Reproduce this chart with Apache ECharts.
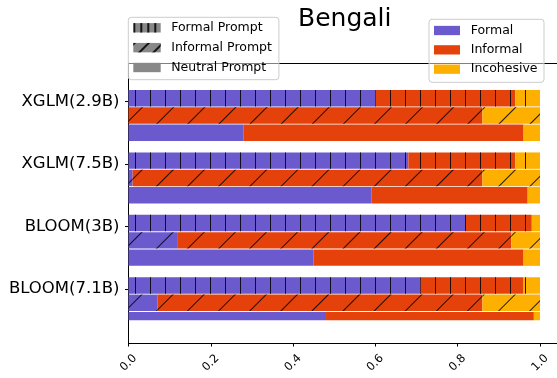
<!DOCTYPE html>
<html><head><meta charset="utf-8">
<script src="https://cdn.jsdelivr.net/npm/echarts@6/dist/echarts.min.js"></script>
<style>html,body{margin:0;padding:0;background:#fff}#c{width:557px;height:378px}</style>
</head><body><div id="c"></div>
<script>
// ---- data ----
const models = ['XGLM(2.9B)', 'XGLM(7.5B)', 'BLOOM(3B)', 'BLOOM(7.1B)'];
const labels = ['Formal', 'Informal', 'Incohesive'];
const prompts = ['Formal Prompt', 'Informal Prompt', 'Neutral Prompt'];
const xTicks = [0, 0.2, 0.4, 0.6, 0.8, 1.0];
// share of generations per model (same order as models)
const formalPromptFormal       = [0.60, 0.68, 0.82, 0.71];
const formalPromptInformal     = [0.34, 0.26, 0.16, 0.25];
const formalPromptIncohesive   = [0.06, 0.06, 0.02, 0.04];
const informalPromptFormal     = [0.00, 0.01, 0.12, 0.07];
const informalPromptInformal   = [0.86, 0.85, 0.81, 0.79];
const informalPromptIncohesive = [0.14, 0.14, 0.07, 0.14];
const neutralPromptFormal      = [0.28, 0.59, 0.45, 0.48];
const neutralPromptInformal    = [0.68, 0.38, 0.51, 0.505];
const neutralPromptIncohesive  = [0.04, 0.03, 0.04, 0.015];

// ---- styles ----
const FONT = 'DejaVu Sans';
const colors = ['#6A5ACD', '#E5420B', '#FEB000'];
const hatchColor = 'rgba(0,0,0,0.85)';
const barDecals = [
  { symbol: 'rect', symbolSize: 1, dashArrayX: [1, 14], dashArrayY: [1, 0], color: hatchColor },
  { symbol: 'rect', symbolSize: 1, dashArrayX: [1, 0], dashArrayY: [1, 21], rotation: -Math.PI / 4, color: hatchColor },
  null
];
const legendDecals = [
  { symbol: 'rect', symbolSize: 1, dashArrayX: [2, 5], dashArrayY: [1, 0], color: hatchColor },
  { symbol: 'rect', symbolSize: 1, dashArrayX: [1, 0], dashArrayY: [2, 8], rotation: -Math.PI / 4, color: hatchColor },
  null
];
const table = [
  [formalPromptFormal, formalPromptInformal, formalPromptIncohesive],
  [informalPromptFormal, informalPromptInformal, informalPromptIncohesive],
  [neutralPromptFormal, neutralPromptInformal, neutralPromptIncohesive]
];

const series = [];
// legend key series (no data, on the frame grid)
labels.forEach((l, i) => series.push({
  name: l, type: 'bar', xAxisIndex: 0, yAxisIndex: 0, data: [],
  itemStyle: { color: colors[i] }
}));
prompts.forEach((p, i) => {
  const st = { color: '#888888' };
  if (legendDecals[i]) st.decal = legendDecals[i];
  series.push({ name: p, type: 'bar', xAxisIndex: 0, yAxisIndex: 0, data: [], itemStyle: st });
});
// spacer stack: shifts the three bars of each model below the tick
series.push({
  name: '_spacer', type: 'bar', stack: 'spacer', xAxisIndex: 2, yAxisIndex: 1,
  barWidth: 26.07, barGap: '5.5%', data: models.map(() => null), silent: true
});
prompts.forEach((p, i) => {
  labels.forEach((l, j) => {
    const st = { color: colors[j] };
    if (barDecals[i]) st.decal = barDecals[i];
    series.push({
      name: l, type: 'bar', stack: 'prompt' + i, xAxisIndex: 2, yAxisIndex: 1,
      barWidth: 16.4, barGap: '5.5%', data: table[i][j], itemStyle: st,
      emphasis: { disabled: true }
    });
  });
});

const chart = echarts.init(document.getElementById('c'), null, { renderer: 'canvas' });
chart.setOption({
  animation: false,
  backgroundColor: '#fff',
  title: {
    text: 'Bengali', left: 298, top: 6.5, padding: 0,
    textStyle: { fontFamily: FONT, fontSize: 25, fontWeight: 'normal', color: '#000' }
  },
  legend: [
    {
      data: prompts, orient: 'vertical', left: 128.3, top: 17.3,
      itemWidth: 27.4, itemHeight: 9.4, itemGap: 6.85, icon: 'rect',
      padding: [4, 7, 5.7, 5],
      backgroundColor: 'rgba(255,255,255,0.5)', borderColor: '#cccccc', borderWidth: 1, borderRadius: 3,
      textStyle: { fontFamily: FONT, fontSize: 12.5, color: '#000', lineHeight: 12, padding: [0, 0, 0, 5.5] }
    },
    {
      data: labels, orient: 'vertical', left: 429, top: 19.3,
      itemWidth: 26, itemHeight: 9.3, itemGap: 6.35, icon: 'rect',
      padding: [4.7, 6.5, 6.6, 5],
      backgroundColor: 'rgba(255,255,255,0.5)', borderColor: '#cccccc', borderWidth: 1, borderRadius: 3,
      textStyle: { fontFamily: FONT, fontSize: 12.5, color: '#000', lineHeight: 12, padding: [0, 0, 0, 5.7] }
    }
  ],
  grid: [
    { left: 128.5, right: -3.6, top: 63, bottom: 35, outerBoundsMode: 'none', containLabel: false },
    { left: 128.5, right: -3.6, top: 70.53, bottom: 57.75, outerBoundsMode: 'none', containLabel: false }
  ],
  xAxis: [
    {
      gridIndex: 0, type: 'value', min: 0, max: 1.05, interval: 0.2, position: 'bottom',
      axisLine: { show: true, lineStyle: { color: '#000', width: 1 } },
      axisTick: { show: true, length: 3.5, lineStyle: { color: '#000' } },
      splitLine: { show: false },
      axisLabel: {
        rotate: 45, align: 'center', verticalAlign: 'middle', margin: 20,
        fontFamily: FONT, fontSize: 11.5, color: '#000',
        formatter: v => { const t = xTicks.find(x => Math.abs(x - v) < 1e-6); return t === undefined ? '' : t.toFixed(1); }
      }
    },
    {
      gridIndex: 0, type: 'value', min: 0, max: 1.05, position: 'top',
      axisLine: { show: true, lineStyle: { color: '#000', width: 1 } },
      axisTick: { show: false }, axisLabel: { show: false }, splitLine: { show: false }
    },
    { gridIndex: 1, type: 'value', min: 0, max: 1.05, show: false }
  ],
  yAxis: [
    {
      gridIndex: 0, type: 'value', min: 0, max: 1,
      axisLine: { show: true, lineStyle: { color: '#000', width: 1 } },
      axisTick: { show: false }, axisLabel: { show: false }, splitLine: { show: false }
    },
    {
      gridIndex: 1, type: 'category', data: models, inverse: true,
      axisLine: { show: false },
      axisTick: { show: true, alignWithLabel: true, length: 3.5, lineStyle: { color: '#000' } },
      axisLabel: { fontFamily: FONT, fontSize: 16.5, color: '#000', margin: 9 },
      splitLine: { show: false }
    }
  ],
  series: series
});
</script></body></html>
